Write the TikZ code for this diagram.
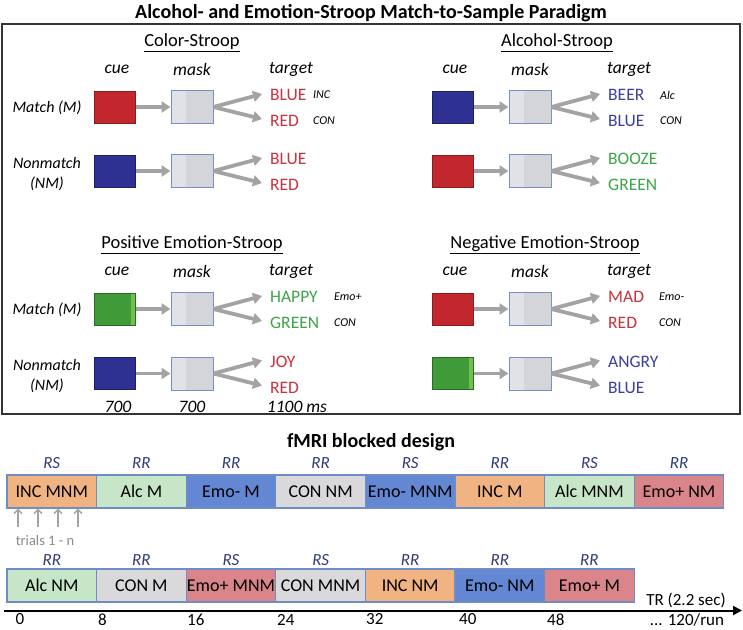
\documentclass[tikz,border=0pt]{standalone}
\usepackage{fontspec}
\setmainfont{Carlito}
\usetikzlibrary{arrows.meta,positioning,calc}
\definecolor{cRed}{HTML}{C1272D}
\definecolor{cRedD}{HTML}{8A1C20}
\definecolor{cBlue}{HTML}{2E3192}
\definecolor{cBlueD}{HTML}{1D1F6A}
\definecolor{cGreen}{HTML}{3E9B37}
\definecolor{cGreenD}{HTML}{2A6C27}
\definecolor{cGreenL}{HTML}{72C04C}
\definecolor{mGray}{HTML}{D3D5D9}
\definecolor{mLight}{HTML}{E1E2E5}
\definecolor{mBorder}{HTML}{7490C4}
\definecolor{aGray}{HTML}{A3A3A3}
\definecolor{wRed}{HTML}{C8323C}
\definecolor{wBlue}{HTML}{3B3F9E}
\definecolor{wGreen}{HTML}{3DA548}
\definecolor{bOrange}{HTML}{F2B383}
\definecolor{bGreen}{HTML}{C7E6C8}
\definecolor{bBlue}{HTML}{6387D3}
\definecolor{bGray}{HTML}{D9D9DB}
\definecolor{bPink}{HTML}{D9858A}
\definecolor{bBorder}{HTML}{6F8DC3}
\definecolor{rNavy}{HTML}{2F3A7A}
\definecolor{tGray}{HTML}{8A8A8A}
\tikzset{
  cuebox/.style={rectangle, minimum width=41pt, minimum height=32pt, inner sep=0pt, line width=0.8pt},
  cuered/.style={cuebox, fill=cRed, draw=cRedD},
  cueblue/.style={cuebox, fill=cBlue, draw=cBlueD},
  cuegreen/.style={cuebox, fill=cGreen, draw=cGreenD,
    path picture={\fill[cGreenL] ([xshift=-4.5pt]path picture bounding box.south east) rectangle ([xshift=-1pt]path picture bounding box.north east);}},
  maskbox/.style={rectangle, minimum width=42pt, minimum height=33pt, inner sep=0pt, fill=mGray, draw=mBorder, line width=1pt,
    path picture={\fill[mLight] (path picture bounding box.south west) rectangle ([xshift=15pt]path picture bounding box.north west);}},
  grayarrow/.style={draw=aGray, line width=3.8pt, -{Triangle[length=9pt,width=11pt]}},
  word/.style={anchor=west, inner sep=0pt, font=\fontsize{17.5}{20}\selectfont},
  tag/.style={anchor=west, inner sep=0pt, font=\fontsize{12}{14}\selectfont\itshape},
  colhead/.style={inner sep=0pt, font=\fontsize{17.5}{20}\selectfont\itshape},
  rowlab/.style={inner sep=0pt, align=center, font=\fontsize{16}{20}\selectfont\itshape},
  qtitle/.style={inner sep=0pt, font=\fontsize{18.5}{22}\selectfont},
  bigtitle/.style={inner sep=0pt, font=\fontsize{20}{24}\selectfont\bfseries},
  blk/.style={rectangle, minimum width=89.6pt, minimum height=33pt, inner sep=0pt, draw=bBorder, line width=1.2pt, font=\fontsize{18}{21}\selectfont},
  rlab/.style={inner sep=0pt, text=rNavy, font=\fontsize{17}{20}\selectfont\itshape},
  ticklab/.style={inner sep=0pt, font=\fontsize{17}{19}\selectfont},
  trialarr/.style={draw=aGray, line width=1.4pt, -{Straight Barb[length=4pt,width=8pt]}},
}
% one trial row: #1 prefix, #2 cue style, #3 word1, #4 colour1, #5 word2, #6 colour2, #7 tag x, #8 tag1, #9 tag2
\newcommand\trialrow[9]{%
  \node[#2] (#1c) at (0,0) {};
  \node[maskbox] (#1m) at (77,0) {};
  \node[word,text=#4] (#1w1) at (155,-12) {#3};
  \node[word,text=#6] (#1w2) at (155,14) {#5};
  \node[tag] (#1t1) at (#7,-12) {#8};
  \node[tag] (#1t2) at (#7,14) {#9};
  \draw[grayarrow] (#1c) -- (#1m);
  \draw[grayarrow] (#1m.east) -- ([xshift=-8pt,yshift=1pt]#1w1.west);
  \draw[grayarrow] (#1m.east) -- ([xshift=-8pt,yshift=2pt]#1w2.west);
}
% quadrant heading: #1 prefix, #2 title x, #3 title
\newcommand\quadhead[3]{%
  \node[qtitle] (#1h) at (#2,-64) {\underline{#3}};
  \node[colhead] (#1cue) at (2,-38) {cue};
  \node[colhead] (#1mask) at (77,-38) {mask};
  \node[colhead] (#1tgt) at (176,-38) {target};
}
% block: #1 name, #2 x, #3 y, #4 fill, #5 text, #6 label, #7 label y
\newcommand\blockpair[7]{%
  \node[blk,fill=#4] (#1) at (#2,#3) {#5};
  \node[rlab] (#1l) at (#2,#7) {#6};
}
\begin{document}
\begin{tikzpicture}[x=1pt,y=-1pt]
\useasboundingbox (0,0) rectangle (743,629);
\fill[white] (0,0) rectangle (743,629);

\node[bigtitle] (title) at (371,13) {Alcohol- and Emotion-Stroop Match-to-Sample Paradigm};
\draw[line width=1.6pt, draw=black!80] (2,24) rectangle (740,414);

% Color-Stroop
\begin{scope}[shift={(115,107)}]
  \quadhead{qa}{77}{Color-Stroop}
  \node[rowlab] (qaM) at (-68,1) {Match (M)};
  \node[rowlab] (qaN) at (-68,67) {Nonmatch\\(NM)};
  \trialrow{qaa}{cuered}{BLUE}{wRed}{RED}{wRed}{198}{INC}{CON}
  \begin{scope}[shift={(0,64)}]
    \trialrow{qab}{cueblue}{BLUE}{wRed}{RED}{wRed}{198}{}{}
  \end{scope}
\end{scope}

% Alcohol-Stroop
\begin{scope}[shift={(453,107)}]
  \quadhead{qb}{104}{Alcohol-Stroop}
  \trialrow{qba}{cueblue}{BEER}{wBlue}{BLUE}{wBlue}{207}{Alc}{CON}
  \begin{scope}[shift={(0,64)}]
    \trialrow{qbb}{cuered}{BOOZE}{wGreen}{GREEN}{wGreen}{207}{}{}
  \end{scope}
\end{scope}

% Positive Emotion-Stroop
\begin{scope}[shift={(115,309)}]
  \quadhead{qc}{77}{Positive Emotion-Stroop}
  \node[rowlab] (qcM) at (-68,1) {Match (M)};
  \node[rowlab] (qcN) at (-68,67) {Nonmatch\\(NM)};
  \trialrow{qca}{cuegreen}{HAPPY}{wGreen}{GREEN}{wGreen}{219}{Emo+}{CON}
  \begin{scope}[shift={(0,64.5)}]
    \trialrow{qcb}{cueblue}{JOY}{wRed}{RED}{wRed}{219}{}{}
  \end{scope}
  \node[colhead] (ms1) at (3,98) {700};
  \node[colhead] (ms2) at (77,98) {700};
  \node[colhead] (ms3) at (182,98) {1100 ms};
\end{scope}

% Negative Emotion-Stroop
\begin{scope}[shift={(453,309)}]
  \quadhead{qd}{92}{Negative Emotion-Stroop}
  \trialrow{qda}{cuered}{MAD}{wRed}{RED}{wRed}{206}{Emo-}{CON}
  \begin{scope}[shift={(0,64.5)}]
    \trialrow{qdb}{cuegreen}{ANGRY}{wBlue}{BLUE}{wBlue}{206}{}{}
  \end{scope}
\end{scope}

% fMRI blocked design
\node[bigtitle] (title2) at (371,442) {fMRI blocked design};

\blockpair{b1}{51.8}{491.5}{bOrange}{INC MNM}{RS}{463}
\blockpair{b2}{141.4}{491.5}{bGreen}{Alc M}{RR}{463}
\blockpair{b3}{231}{491.5}{bBlue}{Emo- M}{RR}{463}
\blockpair{b4}{320.6}{491.5}{bGray}{CON NM}{RR}{463}
\blockpair{b5}{410.2}{491.5}{bBlue}{Emo- MNM}{RS}{463}
\blockpair{b6}{499.8}{491.5}{bOrange}{INC M}{RR}{463}
\blockpair{b7}{589.4}{491.5}{bGreen}{Alc MNM}{RS}{463}
\blockpair{b8}{679}{491.5}{bPink}{Emo+ NM}{RR}{463}

\blockpair{c1}{51.8}{585.5}{bGreen}{Alc NM}{RR}{560}
\blockpair{c2}{141.4}{585.5}{bGray}{CON M}{RR}{560}
\blockpair{c3}{231}{585.5}{bPink}{Emo+ MNM}{RS}{560}
\blockpair{c4}{320.6}{585.5}{bGray}{CON MNM}{RS}{560}
\blockpair{c5}{410.2}{585.5}{bOrange}{INC NM}{RR}{560}
\blockpair{c6}{499.8}{585.5}{bBlue}{Emo- NM}{RR}{560}
\blockpair{c7}{589.4}{585.5}{bPink}{Emo+ M}{RR}{560}

% trial arrows
\coordinate (tr1) at (18,527);
\coordinate (tr2) at (38,527);
\coordinate (tr3) at (58,527);
\coordinate (tr4) at (78,527);
\foreach \k in {1,...,4} { \draw[trialarr] (tr\k) -- (tr\k |- b1.south); }
\node[inner sep=0pt, text=tGray, font=\fontsize{14.5}{17}\selectfont] (trials) at (45,541) {trials 1 - n};

% time axis
\coordinate (ax0) at (4,610.5);
\coordinate (ax1) at (742,610.5);
\draw[line width=2pt, -{Triangle[length=9pt,width=9pt]}] (ax0) -- (ax1);
\node[ticklab] (k0) at (20,619.5) {0};
\node[ticklab, anchor=west] (k8) at (98,619.5) {8};
\node[ticklab, anchor=west] (k16) at (187,619.5) {16};
\node[ticklab, anchor=west] (k24) at (277,619.5) {24};
\node[ticklab, anchor=west] (k32) at (366,619.5) {32};
\node[ticklab, anchor=west] (k40) at (459,619.5) {40};
\node[ticklab, anchor=west] (k48) at (547,619.5) {48};
\node[ticklab] (tr) at (686,600) {TR (2.2 sec)};
\node[ticklab] (run) at (687,619.5) {... 120/run};
\end{tikzpicture}
\end{document}
